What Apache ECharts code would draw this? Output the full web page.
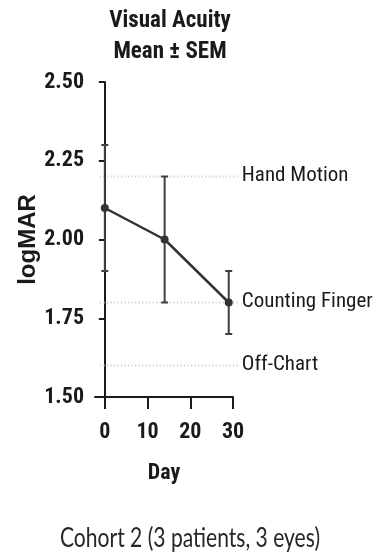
<!DOCTYPE html>
<html>
<head>
<meta charset="utf-8">
<script src="https://cdn.jsdelivr.net/npm/echarts@6/dist/echarts.min.js"></script>
<style>
  html, body { margin: 0; padding: 0; background: #fff; }
  #chart { width: 375px; height: 556px; }
</style>
</head>
<body>
<div id="chart"></div>
<script>
// Visual acuity over time, mean with SEM error bars
const days = [0, 14, 29];
const meanLogMAR = [2.10, 2.00, 1.80];
const semLogMAR = [0.20, 0.20, 0.10];

// Reference acuity levels drawn as dotted guide lines
const refLevels = [2.20, 1.80, 1.60];
const refNames = ['Hand Motion', 'Counting Finger', 'Off-Chart'];

const xTicks = [0, 10, 20, 30];
const narrow = '"Roboto Condensed", "Liberation Sans", sans-serif';
const ink = '#1a1a1a';

const chart = echarts.init(document.getElementById('chart'), null, { renderer: 'canvas' });

const option = {
  backgroundColor: '#ffffff',
  animation: false,
  title: {
    text: 'Visual Acuity\nMean ± SEM',
    left: 165,
    top: 1,
    textAlign: 'center',
    textStyle: {
      fontFamily: narrow,
      fontWeight: 'bold',
      fontSize: 23,
      lineHeight: 31,
      color: ink
    }
  },
  graphic: [{
    // cohort caption under the chart, set a little condensed
    type: 'text',
    x: 190,
    y: 538,
    scaleX: 0.78,
    style: {
      text: 'Cohort 2 (3 patients, 3 eyes)',
      font: '27px Lato, "Open Sans", sans-serif',
      fill: '#262626',
      align: 'center',
      verticalAlign: 'middle'
    }
  }],
  grid: { left: 95, right: 142, top: 82, bottom: 159 },
  xAxis: {
    type: 'value',
    min: -2.3,
    max: 30,
    name: 'Day',
    nameLocation: 'middle',
    nameGap: 65,
    nameTextStyle: { fontFamily: narrow, fontWeight: 'bold', fontSize: 22, color: ink },
    splitLine: { show: false },
    axisLine: { show: true, lineStyle: { color: ink, width: 2 } },
    axisTick: { show: true, length: 12, customValues: xTicks, lineStyle: { color: ink, width: 2 } },
    axisLabel: {
      customValues: xTicks,
      margin: 24,
      fontFamily: narrow,
      fontWeight: 'bold',
      fontSize: 22,
      color: ink
    }
  },
  yAxis: {
    type: 'value',
    min: 1.5,
    max: 2.5,
    interval: 0.25,
    name: 'logMAR',
    nameLocation: 'middle',
    nameGap: 55,
    nameRotate: 90,
    nameTextStyle: { fontFamily: '"Liberation Sans", Arial, sans-serif', fontWeight: 'bold', fontSize: 24, color: ink },
    splitLine: { show: false },
    axisLine: { show: true, lineStyle: { color: ink, width: 2 } },
    axisTick: { show: true, length: 6, lineStyle: { color: ink, width: 2 } },
    axisLabel: {
      margin: 11,
      formatter: v => v.toFixed(2),
      fontFamily: narrow,
      fontWeight: 'bold',
      fontSize: 22,
      color: ink
    }
  },
  series: [
    {
      // dotted guide lines with their labels
      type: 'custom',
      z: 1,
      data: refLevels.map((v, i) => [v, i]),
      encode: { y: 0 },
      renderItem: (params, api) => {
        const v = api.value(0);
        const name = refNames[api.value(1)];
        const a = api.coord([-1.1, v]);
        const b = api.coord([31.6, v]);
        return {
          type: 'group',
          children: [
            {
              type: 'line',
              shape: { x1: a[0], y1: a[1], x2: b[0], y2: b[1] },
              style: { stroke: '#c8c8c8', lineWidth: 2, lineDash: [1, 2.5] }
            },
            {
              type: 'text',
              x: b[0] + 2,
              y: b[1] - 1,
              style: {
                text: name,
                font: '21px "Roboto Condensed", sans-serif',
                fill: ink,
                align: 'left',
                verticalAlign: 'middle'
              }
            }
          ]
        };
      }
    },
    {
      // SEM error bars with caps
      type: 'custom',
      z: 2,
      data: days.map((d, i) => [d, meanLogMAR[i] - semLogMAR[i], meanLogMAR[i] + semLogMAR[i]]),
      encode: { x: 0, y: [1, 2] },
      renderItem: (params, api) => {
        const lo = api.coord([api.value(0), api.value(1)]);
        const hi = api.coord([api.value(0), api.value(2)]);
        const cap = 3.5;
        const st = { stroke: '#3f3f3f', lineWidth: 2 };
        return {
          type: 'group',
          children: [
            { type: 'line', shape: { x1: hi[0], y1: hi[1], x2: lo[0], y2: lo[1] }, style: st },
            { type: 'line', shape: { x1: hi[0] - cap, y1: hi[1], x2: hi[0] + cap, y2: hi[1] }, style: st },
            { type: 'line', shape: { x1: lo[0] - cap, y1: lo[1], x2: lo[0] + cap, y2: lo[1] }, style: st }
          ]
        };
      }
    },
    {
      type: 'line',
      z: 3,
      data: days.map((d, i) => [d, meanLogMAR[i]]),
      symbol: 'circle',
      symbolSize: 8,
      lineStyle: { color: '#333', width: 2.5 },
      itemStyle: { color: '#333' }
    }
  ]
};

chart.setOption(option);
</script>
</body>
</html>
